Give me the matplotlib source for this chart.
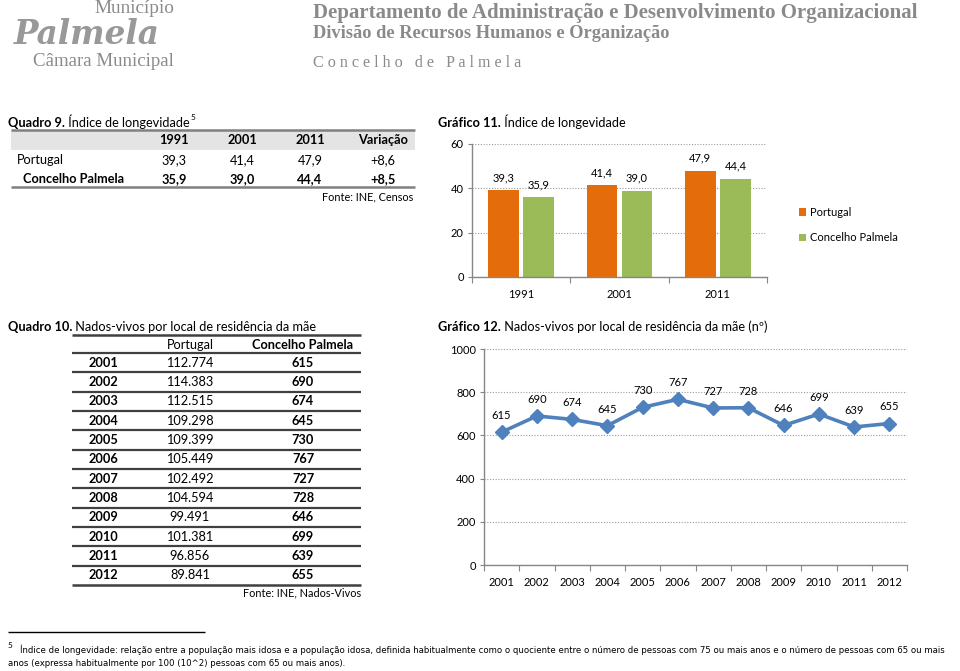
import matplotlib
matplotlib.use('Agg')
import matplotlib.pyplot as plt
from matplotlib.patches import Rectangle
from matplotlib import font_manager
from matplotlib.font_manager import FontProperties

# ── data ──────────────────────────────────────────────────────────────────────
ANOS_CENSOS      = ["1991", "2001", "2011"]
LONGEV_PORTUGAL  = [39.3, 41.4, 47.9]
LONGEV_PALMELA   = [35.9, 39.0, 44.4]
VARIACAO         = ["+8,6", "+8,5"]

ANOS_NADOS       = ["2001", "2002", "2003", "2004", "2005", "2006",
                    "2007", "2008", "2009", "2010", "2011", "2012"]
NADOS_PORTUGAL   = [112774, 114383, 112515, 109298, 109399, 105449,
                    102492, 104594, 99491, 101381, 96856, 89841]
NADOS_PALMELA    = [615, 690, 674, 645, 730, 767, 727, 728, 646, 699, 639, 655]

# ── style ─────────────────────────────────────────────────────────────────────
W, H = 960, 671
BODY = "Lato"
FS = 9.2          # table / title text
FS_CH = 8         # chart text
ORANGE, GREEN, BLUE = "#E46C0A", "#9BBB59", "#4F81BD"
GREY_HEAD = "#8a8a8a"

# a condensed sans for the footnote, if one is installed
narrow = [f for f in font_manager.fontManager.ttflist
          if f.stretch in ("condensed", "semi-condensed", "extra-condensed")
          and f.style == "normal" and f.weight in (400, "normal")]
narrow.sort(key=lambda f: ("Sans" not in f.name, f.name))
NARROW = FontProperties(fname=narrow[0].fname) if narrow else FontProperties(family=BODY)

plt.rcParams['font.family'] = BODY
fig = plt.figure(figsize=(W / 100, H / 100), dpi=100)
fig.patch.set_facecolor("white")
page = fig.add_axes([0, 0, 1, 1])
page.set_xlim(0, W)
page.set_ylim(H, 0)
page.axis("off")
R = fig.canvas.get_renderer()


def fit(t, width):
    w = t.get_window_extent(R).width
    t.set_fontsize(t.get_fontsize() * width / w)
    return t


def title(x, y, bold, rest, size=FS):
    t = page.text(x, y, bold, fontsize=size, fontweight="bold", va="baseline")
    w = t.get_window_extent(R).width
    t2 = page.text(x + w, y, rest, fontsize=size, va="baseline")
    return x + w + t2.get_window_extent(R).width


def fmt1(v):
    return f"{v:.1f}".replace(".", ",")


def hline(y, x0, x1, color, lw):
    page.plot([x0, x1], [y, y], color=color, lw=lw, solid_capstyle="butt")


# ── header ────────────────────────────────────────────────────────────────────
t = page.text(174, 13, "Município", family="Liberation Serif", color=GREY_HEAD,
              fontsize=12, ha="right", va="baseline")
fit(t, 80)
t = page.text(14, 44, "Palmela", family="DejaVu Serif", fontweight="bold",
              style="italic", color="#999999", fontsize=25, ha="left", va="baseline")
fit(t, 146)
t = page.text(174, 66, "Câmara Municipal", family="Liberation Serif", color=GREY_HEAD,
              fontsize=12, ha="right", va="baseline")
fit(t, 141)
t = page.text(313, 18, "Departamento de Administração e Desenvolvimento Organizacional",
              family="Liberation Serif", fontweight="bold", color=GREY_HEAD,
              fontsize=14, va="baseline")
fit(t, 607)
t = page.text(313, 38, "Divisão de Recursos Humanos e Organização",
              family="Liberation Serif", fontweight="bold", color=GREY_HEAD,
              fontsize=11, va="baseline")
fit(t, 355)
t = page.text(313, 67, "C o n c e l h o   d e   P a l m e l a",
              family="Liberation Serif", color=GREY_HEAD, fontsize=11, va="baseline")
fit(t, 210)

# ── Quadro 9 ──────────────────────────────────────────────────────────────────
xe = title(8, 127, "Quadro 9.", " Índice de longevidade")
page.text(xe + 1, 120, "5", fontsize=6, va="baseline")

page.add_patch(Rectangle((11, 130), 404, 20, color="#e4e4e4", lw=0, zorder=0))
hline(130, 11, 415, "#808080", 1.8)
hline(187, 11, 415, "#808080", 1.8)
cols9 = [174, 242, 310, 383]
for x, lab in zip(cols9, ANOS_CENSOS + ["Variação"]):
    page.text(x, 140, lab, fontsize=FS, fontweight="bold", ha="center", va="center")
page.text(17, 160, "Portugal", fontsize=FS, va="center")
page.text(23, 179, "Concelho Palmela", fontsize=FS, fontweight="bold", va="center")
for x, v in zip(cols9, LONGEV_PORTUGAL):
    page.text(x, 160, fmt1(v), fontsize=FS, ha="center", va="center")
page.text(cols9[3], 160, VARIACAO[0], fontsize=FS, ha="center", va="center")
for x, v in zip(cols9, LONGEV_PALMELA):
    page.text(x, 179, fmt1(v), fontsize=FS, fontweight="bold", ha="center", va="center")
page.text(cols9[3], 179, VARIACAO[1], fontsize=FS, fontweight="bold", ha="center", va="center")
page.text(413, 197, "Fonte: INE, Censos", fontsize=7.8, ha="right", va="center")

# ── Quadro 10 ─────────────────────────────────────────────────────────────────
title(8, 331, "Quadro 10.", " Nados-vivos por local de residência da mãe")
hline(335, 72, 361, "#404040", 1.8)
page.text(190, 345, "Portugal", fontsize=FS, ha="center", va="center")
page.text(303, 345, "Concelho Palmela", fontsize=FS, fontweight="bold",
          ha="center", va="center")
row_h = (585 - 353) / len(ANOS_NADOS)
for i, (ano, pt, pal) in enumerate(zip(ANOS_NADOS, NADOS_PORTUGAL, NADOS_PALMELA)):
    y0 = 353 + i * row_h
    hline(y0, 72, 361, "#404040", 1.6)
    yc = y0 + row_h / 2
    page.text(103, yc, ano, fontsize=FS, fontweight="bold", ha="center", va="center")
    page.text(190, yc, f"{pt:,}".replace(",", "."), fontsize=FS, ha="center", va="center")
    page.text(303, yc, str(pal), fontsize=FS, fontweight="bold", ha="center", va="center")
hline(585, 72, 361, "#404040", 1.8)
page.text(361, 593, "Fonte: INE, Nados-Vivos", fontsize=7.8, ha="right", va="center")


# ── charts ────────────────────────────────────────────────────────────────────
def chart_axes(x0, y0, x1, y1):
    ax = fig.add_axes([x0 / W, 1 - y1 / H, (x1 - x0) / W, (y1 - y0) / H])
    for s in ("top", "right"):
        ax.spines[s].set_visible(False)
    for s in ("left", "bottom"):
        ax.spines[s].set_color("#868686")
        ax.spines[s].set_linewidth(1)
    ax.yaxis.grid(True, linestyle=(0, (1, 1.5)), color="#9a9a9a", lw=0.8)
    ax.set_axisbelow(True)
    ax.tick_params(axis="y", length=3, color="#868686", labelsize=FS_CH, pad=3)
    ax.tick_params(axis="x", which="major", length=4, color="#868686", labelbottom=False)
    ax.tick_params(axis="x", which="minor", length=0, labelsize=FS_CH, pad=9)
    return ax


# Gráfico 11
title(438, 127, "Gráfico 11.", " Índice de longevidade")
ax1 = chart_axes(472, 144, 767, 277)
xs = range(len(ANOS_CENSOS))
bw, off = 0.315, 0.178
b1 = ax1.bar([x - off for x in xs], LONGEV_PORTUGAL, bw, color=ORANGE, label="Portugal")
b2 = ax1.bar([x + off for x in xs], LONGEV_PALMELA, bw, color=GREEN, label="Concelho Palmela")
for bars in (b1, b2):
    for b in bars:
        ax1.annotate(fmt1(b.get_height()), (b.get_x() + b.get_width() / 2, b.get_height()),
                     xytext=(0, 5), textcoords="offset points", ha="center", va="bottom",
                     fontsize=FS_CH)
ax1.set_xlim(-0.5, len(ANOS_CENSOS) - 0.5)
ax1.set_ylim(0, 60)
ax1.set_yticks([0, 20, 40, 60])
ax1.set_xticks([i - 0.5 for i in range(len(ANOS_CENSOS) + 1)])
ax1.set_xticks(list(xs), minor=True)
ax1.set_xticklabels(ANOS_CENSOS, minor=True)
ax1.legend(loc="center left", bbox_to_anchor=(1.075, 0.39), frameon=False, fontsize=FS_CH,
           handlelength=0.6, handleheight=0.6, handletextpad=0.4, labelspacing=1.3)

# Gráfico 12
title(438, 331, "Gráfico 12.", " Nados-vivos por local de residência da mãe (nº)")
ax2 = chart_axes(484, 349, 907, 565)
xs2 = range(len(ANOS_NADOS))
ax2.plot(list(xs2), NADOS_PALMELA, color=BLUE, lw=2.6, marker="D", markersize=7,
         markerfacecolor=BLUE, markeredgecolor=BLUE)
for x, v in zip(xs2, NADOS_PALMELA):
    ax2.annotate(str(v), (x, v), xytext=(0, 8), textcoords="offset points",
                 ha="center", va="bottom", fontsize=FS_CH)
ax2.set_xlim(-0.5, len(ANOS_NADOS) - 0.5)
ax2.set_ylim(0, 1000)
ax2.set_yticks(range(0, 1001, 200))
ax2.set_xticks([i - 0.5 for i in range(len(ANOS_NADOS) + 1)])
ax2.set_xticks(list(xs2), minor=True)
ax2.set_xticklabels(ANOS_NADOS, minor=True)

# ── footnote ──────────────────────────────────────────────────────────────────
hline(632, 8, 205, "#000000", 1)
page.text(8, 646, "5", fontsize=6, va="center")
t = page.text(20, 650, "Índice de longevidade: relação entre a população mais idosa e a "
              "população idosa, definida habitualmente como o quociente entre o número "
              "de pessoas com 75 ou mais anos e o número de pessoas com 65 ou mais",
              fontproperties=NARROW, va="center")
t.set_fontsize(8)
fit(t, 915)
fs = t.get_fontsize()
t2 = page.text(8, 664, "anos (expressa habitualmente por 100 (10^2) pessoas com 65 ou mais anos).",
               fontproperties=NARROW, va="center")
t2.set_fontsize(fs)

fig.savefig("out.png", dpi=100)
